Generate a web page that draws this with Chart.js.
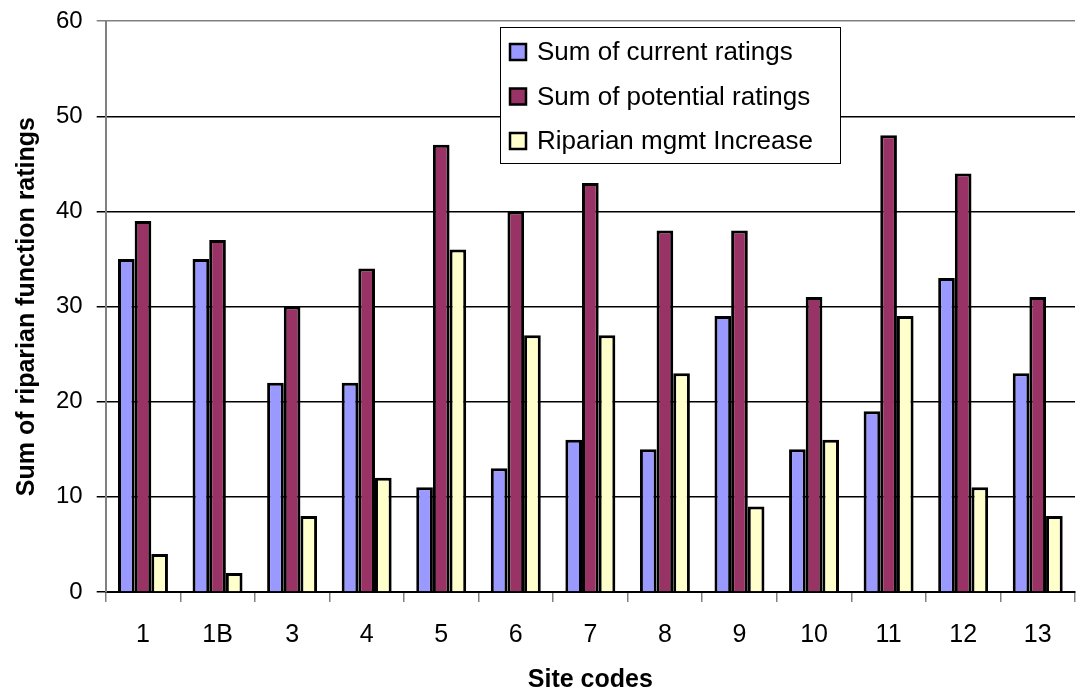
<!DOCTYPE html>
<html>
<head>
<meta charset="utf-8">
<script src="https://cdn.jsdelivr.net/npm/chart.js@4"></script>
<style>
  html, body { margin: 0; padding: 0; background: #fff; }
  #wrap { width: 1077px; height: 693px; }
</style>
</head>
<body>
<div id="wrap"><canvas id="graph"></canvas></div>
<script>
// site codes and the three series
const sites = ['1', '1B', '3', '4', '5', '6', '7', '8', '9', '10', '11', '12', '13'];
const currentRatings = [35, 35, 22, 22, 11, 13, 16, 15, 29, 15, 19, 33, 23];
const potentialRatings = [39, 37, 30, 34, 47, 40, 43, 38, 38, 31, 48, 44, 31];
const mgmtIncrease = [4, 2, 8, 12, 36, 27, 27, 23, 9, 16, 29, 11, 8];
const yTicks = [0, 10, 20, 30, 40, 50, 60];

const font = "'Liberation Sans', Arial, sans-serif";

// legend box drawn inside the plot, like the original
const boxLegend = {
    id: 'boxLegend',
    afterDraw(chart) {
        const ctx = chart.ctx;
        const x = 500, y = 27, w = 340, h = 136;
        ctx.save();
        ctx.fillStyle = '#fff';
        ctx.fillRect(x, y, w, h);
        ctx.strokeStyle = '#000';
        ctx.lineWidth = 1;
        ctx.strokeRect(x + 0.5, y + 0.5, w, h);
        ctx.font = '26px ' + font;
        ctx.textBaseline = 'middle';
        chart.data.datasets.forEach((ds, i) => {
            const cy = y + 25 + i * 44.5;
            ctx.fillStyle = ds.backgroundColor;
            ctx.fillRect(x + 10, cy - 8, 16, 16);
            ctx.lineWidth = 2.5;
            ctx.strokeStyle = '#000';
            ctx.strokeRect(x + 10, cy - 8, 16, 16);
            ctx.fillStyle = '#000';
            ctx.fillText(ds.label, x + 37, cy + 1);
        });
        ctx.restore();
    }
};

const ctx = document.getElementById('graph').getContext('2d');
const graph = new Chart(ctx, {
    type: 'bar',
    data: {
        labels: sites,
        datasets: [
            {
                label: 'Sum of current ratings',
                data: currentRatings,
                backgroundColor: '#9999FF',
                borderColor: '#000',
                borderWidth: 3
            },
            {
                label: 'Sum of potential ratings',
                data: potentialRatings,
                backgroundColor: '#993366',
                borderColor: '#000',
                borderWidth: 3
            },
            {
                label: 'Riparian mgmt Increase',
                data: mgmtIncrease,
                backgroundColor: '#FFFFCC',
                borderColor: '#000',
                borderWidth: 3
            }
        ]
    },
    options: {
        responsive: true,
        maintainAspectRatio: false,
        animation: false,
        datasets: { bar: { categoryPercentage: 0.67, barPercentage: 1.0 } },
        layout: { padding: { top: 0, right: 2, left: 12, bottom: 0 } },
        plugins: {
            legend: { display: false },
            tooltip: { enabled: false }
        },
        scales: {
            x: {
                grid: {
                    offset: true,
                    drawOnChartArea: false,
                    color: '#808080',
                    tickLength: 10,
                    lineWidth: 1.5
                },
                border: { color: '#000', width: 2 },
                ticks: { color: '#000', font: { family: font, size: 25 }, padding: 18 },
                title: {
                    display: true,
                    text: 'Site codes',
                    color: '#000',
                    font: { family: font, size: 25, weight: 'bold', lineHeight: 1.0 },
                    padding: { top: 0, bottom: 0 }
                }
            },
            y: {
                min: 0,
                max: 60,
                afterBuildTicks: axis => { axis.ticks = yTicks.map(v => ({ value: v })); },
                grid: {
                    color: ctx => ctx.tick && ctx.tick.value === 60 ? '#808080' : '#000',
                    lineWidth: 1.5,
                    tickLength: 9
                },
                border: { color: '#808080', width: 2 },
                ticks: { color: '#000', font: { family: font, size: 24, lineHeight: 0.6 }, padding: 14 },
                title: {
                    display: true,
                    text: 'Sum of riparian function ratings',
                    color: '#000',
                    font: { family: font, size: 25, weight: 'bold' },
                    padding: { top: 0, bottom: 0 }
                }
            }
        }
    },
    plugins: [boxLegend]
});
</script>
</body>
</html>
